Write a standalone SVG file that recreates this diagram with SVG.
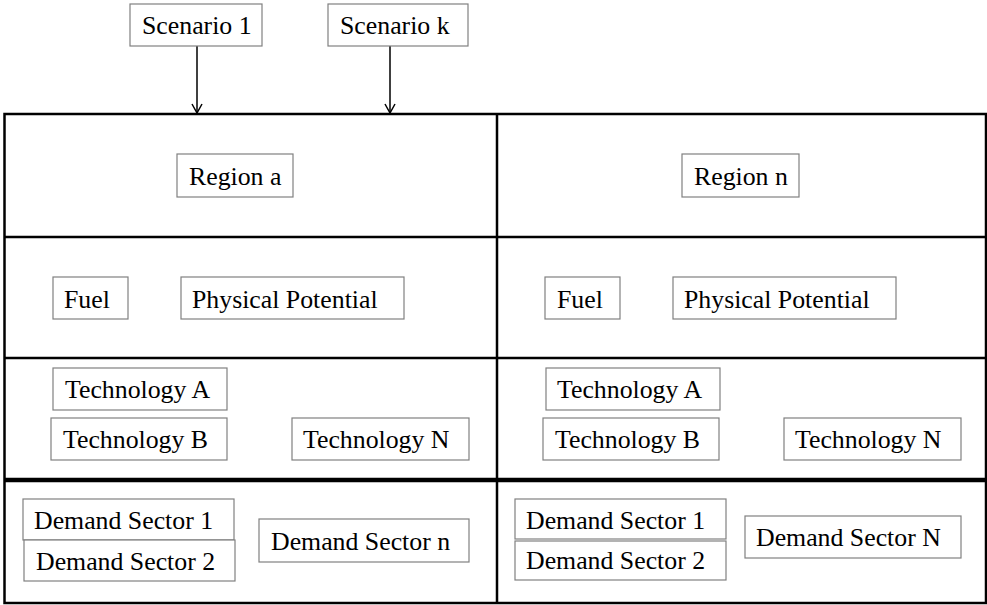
<svg xmlns="http://www.w3.org/2000/svg" width="987" height="605" viewBox="0 0 987 605">
<style>
.frame{fill:none;stroke:#000;stroke-width:2.5}
.div{stroke:#000;stroke-width:2.5}
.thick{stroke:#000;stroke-width:4.5}
.box{fill:#fff;stroke:#808080;stroke-width:1.2}
.conn{stroke:#000;stroke-width:1.5;fill:none}
</style>
<defs>
<marker id="arr" markerWidth="12" markerHeight="12" refX="10" refY="6" orient="auto" markerUnits="userSpaceOnUse">
<path d="M1,1 L10,6 L1,11" fill="none" stroke="#000" stroke-width="1.5"/>
</marker>
</defs>
<rect width="987" height="605" fill="#fff"/>
<g id="frame">
<rect class="frame" x="4.5" y="114" width="981.5" height="489"/>
<line class="div" x1="497" y1="114" x2="497" y2="603"/>
<line class="div" x1="4.5" y1="237" x2="986" y2="237"/>
<line class="div" x1="4.5" y1="358" x2="986" y2="358"/>
<line class="thick" x1="4.5" y1="480" x2="986" y2="480"/>
</g>
<g id="connectors">
<line class="conn" x1="197" y1="46" x2="197" y2="113" marker-end="url(#arr)"/>
<line class="conn" x1="390" y1="46" x2="390" y2="113" marker-end="url(#arr)"/>
</g>
<g id="nodes" font-family="'Liberation Serif', 'Times New Roman', serif" font-size="25.8" fill="#000">
<g id="scenario1"><rect class="box" x="130" y="4" width="132" height="42"/><text x="142" y="34">Scenario 1</text></g>
<g id="scenariok"><rect class="box" x="328" y="4" width="140" height="42"/><text x="340" y="34">Scenario k</text></g>
<g id="regiona"><rect class="box" x="177" y="154" width="116" height="43"/><text x="189" y="184.5">Region a</text></g>
<g id="regionn"><rect class="box" x="682" y="154" width="117" height="43"/><text x="694" y="184.5">Region n</text></g>
<g id="fuel-a"><rect class="box" x="53" y="277" width="75" height="42"/><text x="64" y="307.5">Fuel</text></g>
<g id="pp-a"><rect class="box" x="181" y="277" width="223" height="42"/><text x="192" y="307.5">Physical Potential</text></g>
<g id="fuel-n"><rect class="box" x="545" y="277" width="75" height="42"/><text x="557" y="307.5">Fuel</text></g>
<g id="pp-n"><rect class="box" x="673" y="277" width="223" height="42"/><text x="684" y="307.5">Physical Potential</text></g>
<g id="techA-a"><rect class="box" x="53" y="368" width="174" height="42"/><text x="65" y="398">Technology A</text></g>
<g id="techB-a"><rect class="box" x="51" y="418" width="176" height="42"/><text x="63" y="448">Technology B</text></g>
<g id="techN-a"><rect class="box" x="292" y="418" width="177" height="42"/><text x="303" y="448">Technology N</text></g>
<g id="techA-n"><rect class="box" x="546" y="368" width="174" height="42"/><text x="557" y="398">Technology A</text></g>
<g id="techB-n"><rect class="box" x="543" y="418" width="176" height="42"/><text x="555" y="448">Technology B</text></g>
<g id="techN-n"><rect class="box" x="784" y="418" width="177" height="42"/><text x="795" y="448">Technology N</text></g>
<g id="ds1-a"><rect class="box" x="23" y="499" width="211" height="41"/><text x="34" y="528.5">Demand Sector 1</text></g>
<g id="ds2-a"><rect class="box" x="24" y="540" width="211" height="41"/><text x="36" y="569.5">Demand Sector 2</text></g>
<g id="dsn-a"><rect class="box" x="259" y="519" width="210" height="43"/><text x="271" y="549.5">Demand Sector n</text></g>
<g id="ds1-n"><rect class="box" x="515" y="499" width="211" height="40"/><text x="526" y="528.5">Demand Sector 1</text></g>
<g id="ds2-n"><rect class="box" x="515" y="541" width="211" height="39"/><text x="526" y="569">Demand Sector 2</text></g>
<g id="dsN-n"><rect class="box" x="745" y="516" width="216" height="42"/><text x="756" y="546">Demand Sector N</text></g>
</g>
</svg>
